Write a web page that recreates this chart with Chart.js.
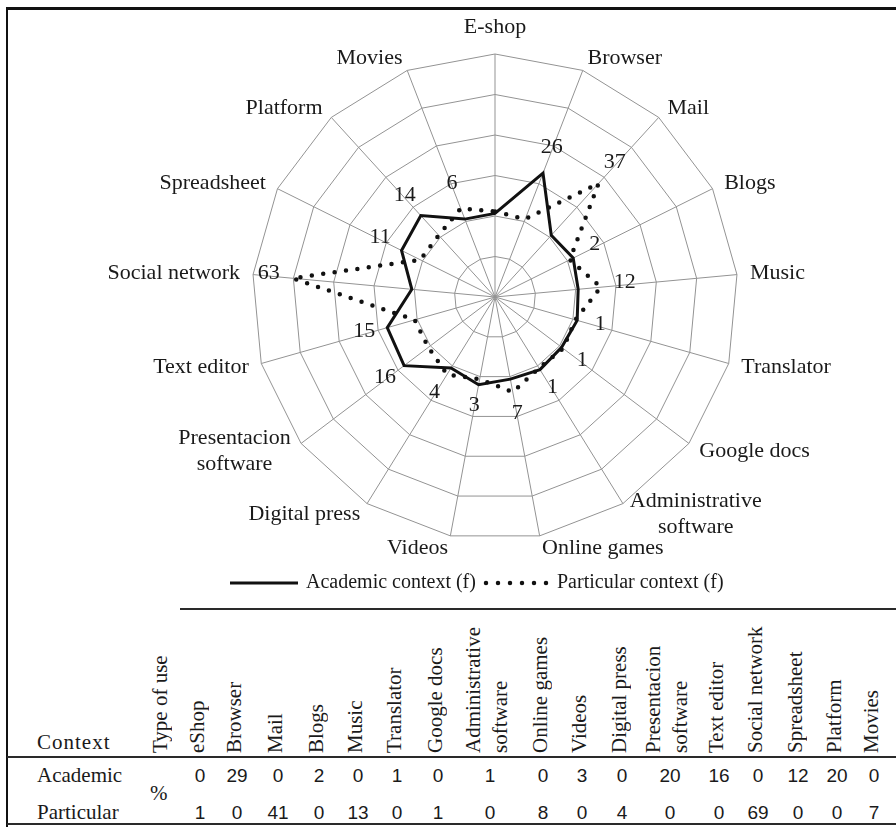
<!DOCTYPE html>
<html>
<head>
<meta charset="utf-8">
<script src="https://cdn.jsdelivr.net/npm/chart.js@4.4.1/dist/chart.umd.min.js"></script>
<style>
body { margin:0; background:#fff; color:#1a1a1a; font-family:"Liberation Serif", serif; }
#page { position:relative; width:896px; height:835px; overflow:hidden; }
#radar { position:absolute; left:0; top:0; }
#frame { position:absolute; left:6px; top:7px; width:900px; height:817px; border-top:3px solid #111; border-left:2px solid #111; }
.hline { position:absolute; height:2px; background:#2a2a2a; }
.txt { position:absolute; font-size:21px; white-space:nowrap; line-height:1; transform:translateY(-50%); }
.num { position:absolute; font-family:"Liberation Sans Narrow","Liberation Sans",sans-serif; font-size:19px; line-height:1; transform:translate(-50%,-50%); }
.vhead { position:absolute; top:609px; height:144px; writing-mode:vertical-rl; transform:rotate(180deg); font-size:21px; line-height:27px; white-space:pre; }
</style>
</head>
<body>
<div id="page">
  <div id="frame"></div>
  <canvas id="radar" width="896" height="600"></canvas>
  <div class="hline" style="left:180px; top:608px; width:716px;"></div>
  <div class="hline" style="left:7px; top:756px; width:889px;"></div>
  <div class="hline" style="left:7px; top:823px; width:889px;"></div>
  <div id="table"></div>
</div>

<script>
// radar (frequencies)
var categories = ['E-shop','Browser','Mail','Blogs','Music','Translator','Google docs','Administrative\nsoftware',
	'Online games','Videos','Digital press','Presentacion\nsoftware','Text editor','Social network','Spreadsheet','Platform','Movies'];
var academicF   = [0, 26, 0, 2, 0, 1, 0, 1, 0, 3, 0, 16, 15, 0, 11, 14, 0];
var particularF = [1, 0, 37, 0, 12, 0, 1, 0, 7, 0, 4, 0, 0, 63, 0, 0, 6];
var seriesNames = ['Academic context (f)', 'Particular context (f)'];

// table (%)
var tableHeads = ['eShop','Browser','Mail','Blogs','Music','Translator','Google docs','Administrative\nsoftware',
	'Online games','Videos','Digital press','Presentacion\nsoftware','Text editor','Social network','Spreadsheet','Platform','Movies'];
var rowNames = ['Academic', 'Particular'];
var academicPct   = [0, 29, 0, 2, 0, 1, 0, 1, 0, 3, 0, 20, 16, 0, 12, 20, 0];
var particularPct = [1, 0, 41, 0, 13, 0, 1, 0, 8, 0, 4, 0, 0, 69, 0, 0, 7];

// layout only
var colX = [200, 237, 278, 319, 358, 397, 438, 490, 543, 582, 622, 670, 719, 758, 798, 837, 874];
var rowY = [775, 812];
var noLabel = [[], [0]];

var textPlugin = {
	id: 'textPlugin',
	afterDatasetsDraw: function(chart) {
		var ctx = chart.ctx;
		var r = chart.scales.r;
		ctx.save();
		ctx.fillStyle = '#1a1a1a';
		ctx.textBaseline = 'middle';
		ctx.textAlign = 'center';
		ctx.font = '22px "Liberation Serif"';

		// category names round the web
		categories.forEach(function(name, i) {
			var a = r.getIndexAngle(i);
			var s = Math.sin(a), c = Math.cos(a);
			var p = r.getPointPosition(i, r.drawingArea + 13);
			var lines = name.split('\n');
			var w = Math.max.apply(null, lines.map(function(t) { return ctx.measureText(t).width; }));
			var cx = p.x, cy = p.y;
			if (s > 0.1) cx += w / 2;
			else if (s < -0.1) cx -= w / 2;
			else cy -= c * 14;
			lines.forEach(function(t, k) {
				ctx.fillText(t, cx, cy + (k - (lines.length - 1) / 2) * 26);
			});
		});

		// value labels
		[academicF, particularF].forEach(function(vals, d) {
			vals.forEach(function(v, i) {
				if (v <= 0 || noLabel[d].indexOf(i) >= 0) return;
				var p = r.getPointPosition(i, r.getDistanceFromCenterForValue(v) + 24);
				ctx.fillText(String(v), p.x, p.y - 3);
			});
		});

		// legend
		var ly = 583;
		ctx.strokeStyle = '#111';
		ctx.lineWidth = 3;
		ctx.beginPath(); ctx.moveTo(230, ly); ctx.lineTo(298, ly); ctx.stroke();
		ctx.font = '20px "Liberation Serif"';
		ctx.textAlign = 'left';
		ctx.fillText(seriesNames[0], 306, ly);
		ctx.lineWidth = 4.5;
		ctx.lineCap = 'round';
		ctx.setLineDash([0, 12]);
		ctx.beginPath(); ctx.moveTo(486, ly); ctx.lineTo(548, ly); ctx.stroke();
		ctx.setLineDash([]);
		ctx.fillText(seriesNames[1], 557, ly);
		ctx.restore();
	}
};

new Chart(document.getElementById('radar'), {
	type: 'radar',
	data: {
		labels: categories,
		datasets: [{
			label: seriesNames[0],
			data: academicF,
			borderColor: '#111',
			borderWidth: 3,
			borderJoinStyle: 'miter',
			pointRadius: 0,
			fill: false
		}, {
			label: seriesNames[1],
			data: particularF,
			borderColor: '#111',
			borderWidth: 4.5,
			borderDash: [0, 11.5],
			borderCapStyle: 'round',
			pointRadius: 0,
			fill: false
		}]
	},
	options: {
		responsive: false,
		animation: false,
		layout: { padding: { left: 252, right: 158, top: 54, bottom: 60 } },
		elements: { line: { tension: 0 } },
		plugins: { legend: { display: false }, tooltip: { enabled: false } },
		scales: {
			r: {
				min: -44,
				max: 84,
				ticks: { display: false, count: 7 },
				grid: { color: '#939393', lineWidth: 1 },
				angleLines: { color: '#939393', lineWidth: 1 },
				pointLabels: { display: false }
			}
		}
	},
	plugins: [textPlugin]
});

// table below the chart
var t = document.getElementById('table');
function add(cls, text, style) {
	var d = document.createElement('div');
	d.className = cls;
	d.textContent = text;
	d.setAttribute('style', style);
	t.appendChild(d);
}
add('txt', 'Context', 'left:37px; top:742px; letter-spacing:1px;');
add('vhead', 'Type of use', 'left:147px;');
add('txt', '%', 'left:150px; top:793px;');
rowNames.forEach(function(n, k) { add('txt', n, 'left:37px; top:' + rowY[k] + 'px;'); });
tableHeads.forEach(function(h, i) {
	var n = h.split('\n').length;
	add('vhead', h, 'left:' + (colX[i] - 3 - n * 27 / 2) + 'px;');
	add('num', String(academicPct[i]), 'left:' + colX[i] + 'px; top:' + rowY[0] + 'px;');
	add('num', String(particularPct[i]), 'left:' + colX[i] + 'px; top:' + rowY[1] + 'px;');
});
</script>
</body>
</html>
